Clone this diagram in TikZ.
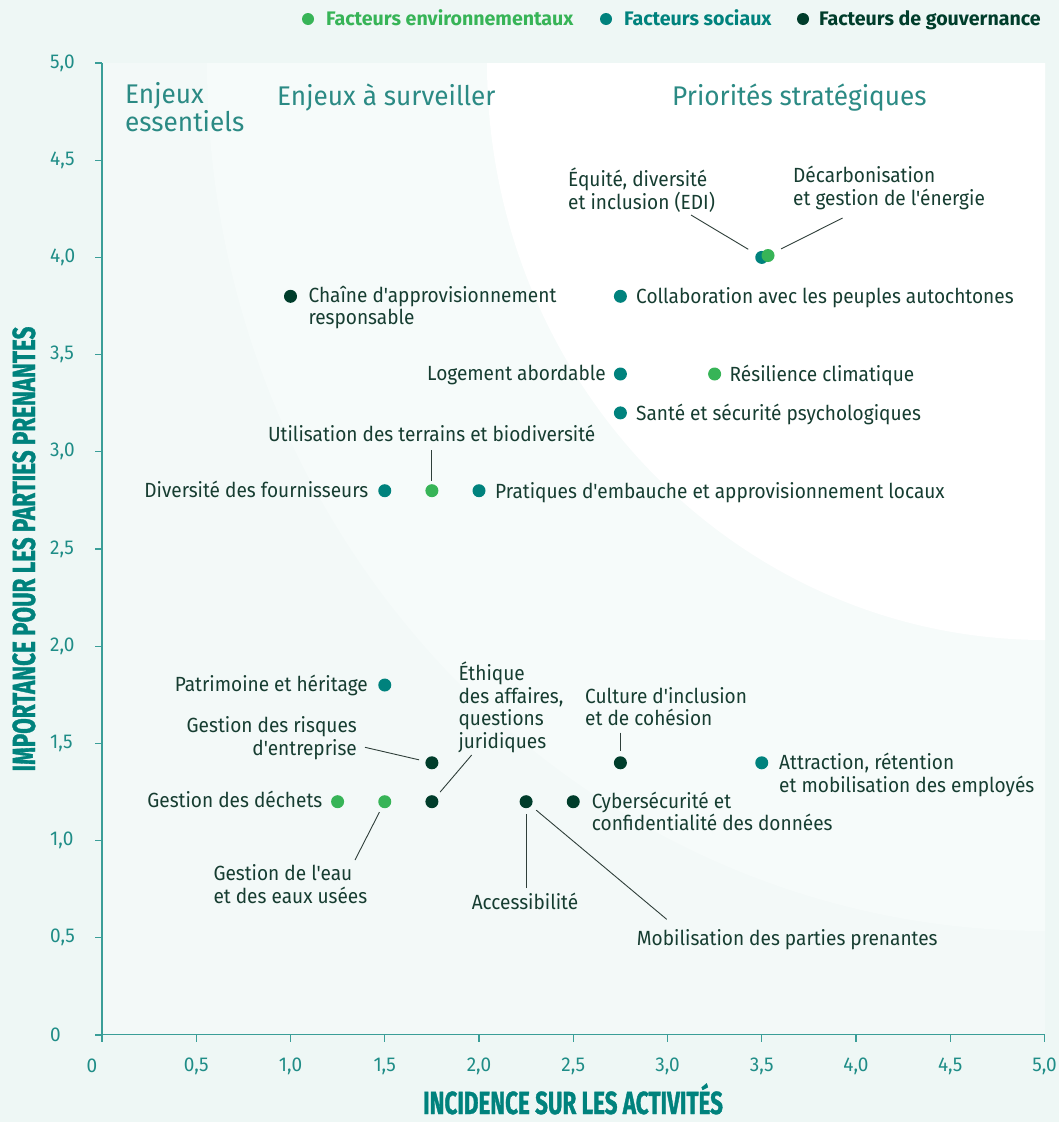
\documentclass[tikz,border=0pt]{standalone}
\usepackage{fontspec}
\setmainfont{Fira Sans}
\newfontfamily\lblfont[FakeStretch=0.93]{Fira Sans}
\newfontfamily\quadfont[FakeStretch=0.97]{Fira Sans}
\newfontfamily\legfont{Fira Sans}
\newfontfamily\tickfont[FakeStretch=0.95]{Fira Sans}
\newfontfamily\ttlfont[FakeStretch=0.70,FakeBold=1]{Fira Sans}
\definecolor{pagebg}{HTML}{EEF7F5}
\definecolor{plotbg}{HTML}{F3F9F8}
\definecolor{midbg}{HTML}{F6FBFA}
\definecolor{envc}{HTML}{37B457}
\definecolor{socc}{HTML}{00827D}
\definecolor{govc}{HTML}{003D2B}
\definecolor{txtc}{HTML}{163D31}
\definecolor{quadc}{HTML}{2B8A84}
\definecolor{axc}{HTML}{3A9E98}
\definecolor{tickc}{HTML}{1F8D87}
\definecolor{linec}{HTML}{2F3F3A}
\begin{document}
\begin{tikzpicture}[x=1pt,y=-1pt,
  dot/.style={circle,inner sep=0pt,minimum size=13pt,draw=none},
  env/.style={dot,fill=envc},
  soc/.style={dot,fill=socc},
  gov/.style={dot,fill=govc},
  lbl/.style={inner sep=0pt,text=txtc,font=\lblfont\fontsize{20.5}{22.6}\selectfont},
  quad/.style={inner sep=0pt,text=quadc,font=\quadfont\fontsize{27}{26}\selectfont},
  tick/.style={inner sep=0pt,text=tickc,font=\tickfont\fontsize{20}{20}\selectfont},
  leg/.style={inner sep=0pt,font=\legfont\bfseries\fontsize{19.6}{20}\selectfont},
  ttl/.style={inner sep=0pt,text=socc,font=\ttlfont\bfseries\fontsize{32}{32}\selectfont},
  axline/.style={draw=axc,line width=1.3pt},
  conn/.style={draw=linec,line width=0.9pt}]
\fill[pagebg] (0,0) rectangle (1059,1122);
\useasboundingbox (0,0) rectangle (1059,1122);
% zones
\begin{scope}
\clip (102,63) rectangle (1045,1034.5);
\fill[plotbg] (102,63) rectangle (1045,1034.5);
\fill[midbg] (1045,63) ellipse [x radius=838pt, y radius=868pt];
\fill[white] (1045,63) ellipse [x radius=558pt, y radius=577pt];
\end{scope}
% axes
\draw[axline] (102,63) -- (102,1034.5);
\draw[axline] (95,1034.5) -- (1045,1034.5);
\foreach \k in {0,...,10}{
  \draw[axline] ({102+94.25*\k},1034.5) -- ({102+94.25*\k},1041.5);
  \draw[axline] (95,{1035-97.2*\k}) -- (102,{1035-97.2*\k});
}
\foreach \k/\t in {1/{0,5},2/{1,0},3/{1,5},4/{2,0},5/{2,5},6/{3,0},7/{3,5},8/{4,0},9/{4,5},10/{5,0}}{
  \node[tick,anchor=center] (xt\k) at ({102+94.25*\k},1066) {\t};
  \node[tick,anchor=west] (yt\k) at (50,{1035-97.2*\k}) {\t};
}
\node[tick,anchor=center] (xt0) at (92,1066) {0};
\node[tick,anchor=west] (yt0) at (50,1035) {0};
% axis titles
\node[ttl,anchor=base] (xtitle) at (573,1114) {INCIDENCE SUR LES ACTIVITÉS};
\node[ttl,anchor=base,rotate=90] (ytitle) at (35,549) {IMPORTANCE POUR LES PARTIES PRENANTES};
% legend
\node[env,minimum size=12pt] (lg1) at (308,19) {};
\node[leg,text=envc,anchor=base west] (lt1) at (326,25) {Facteurs environnementaux};
\node[soc,minimum size=12pt] (lg2) at (606,19) {};
\node[leg,text=socc,anchor=base west] (lt2) at (624,25) {Facteurs sociaux};
\node[gov,minimum size=12pt] (lg3) at (803,19) {};
\node[leg,text=govc,anchor=base west] (lt3) at (819,25) {Facteurs de gouvernance};
% quadrant titles (base = last line)
\node[quad,anchor=base west,align=left] (q1) at (125,131.7) {Enjeux\\essentiels};
\node[quad,anchor=base west] (q2) at (277,105.7) {Enjeux à surveiller};
\node[quad,anchor=base west] (q3) at (672,105) {Priorités stratégiques};
% dots
\node[soc] (edi) at (761.75,257.4) {};
\node[env] (decarb) at (768,255.5) {};
\node[gov] (chaine) at (290.5,296.3) {};
\node[soc] (collab) at (620.4,296.3) {};
\node[soc] (logement) at (620.4,374) {};
\node[env] (resil) at (714.6,374) {};
\node[soc] (sante) at (620.4,412.9) {};
\node[soc] (divers) at (384.75,490.7) {};
\node[env] (utilis) at (431.9,490.7) {};
\node[soc] (pratiq) at (479,490.7) {};
\node[soc] (patrim) at (384.75,685) {};
\node[gov] (risques) at (431.9,762.8) {};
\node[gov] (culture) at (620.4,762.8) {};
\node[soc] (attract) at (761.75,762.8) {};
\node[env] (dechets) at (337.6,801.7) {};
\node[env] (eau) at (384.75,801.7) {};
\node[gov] (ethique) at (431.9,801.7) {};
\node[gov] (access) at (526.1,801.7) {};
\node[gov] (cyber) at (573.25,801.7) {};
% labels (multi-line: base = last line)
\node[lbl,anchor=base west,align=left] (l-edi) at (568,209) {Équité, diversité\\et inclusion (EDI)};
\node[lbl,anchor=base west,align=left] (l-decarb) at (793,205.5) {Décarbonisation\\et gestion de l'énergie};
\node[lbl,anchor=base west,align=left] (l-chaine) at (308.3,324.8) {Chaîne d'approvisionnement\\responsable};
\node[lbl,anchor=base west] (l-collab) at (636,303.5) {Collaboration avec les peuples autochtones};
\node[lbl,anchor=base east] (l-logement) at (606,380.5) {Logement abordable};
\node[lbl,anchor=base west] (l-resil) at (729.5,381.5) {Résilience climatique};
\node[lbl,anchor=base west] (l-sante) at (636,420) {Santé et sécurité psychologiques};
\node[lbl,anchor=base] (l-utilis) at (431.7,441.7) {Utilisation des terrains et biodiversité};
\node[lbl,anchor=base east] (l-divers) at (368.5,497) {Diversité des fournisseurs};
\node[lbl,anchor=base west] (l-pratiq) at (495,498) {Pratiques d'embauche et approvisionnement locaux};
\node[lbl,anchor=base east] (l-patrim) at (368,691.5) {Patrimoine et héritage};
\node[lbl,anchor=base east,align=right] (l-risques) at (357,755.5) {Gestion des risques\\d'entreprise};
\node[lbl,anchor=base west,align=left] (l-ethique) at (458.3,748.3) {Éthique\\des affaires,\\questions\\juridiques};
\node[lbl,anchor=base west,align=left] (l-culture) at (585,725.8) {Culture d'inclusion\\et de cohésion};
\node[lbl,anchor=base west,align=left] (l-attract) at (779,792) {Attraction, rétention\\et mobilisation des employés};
\node[lbl,anchor=base east] (l-dechets) at (322.5,807) {Gestion des déchets};
\node[lbl,anchor=base west,align=left] (l-eau) at (213.3,903.3) {Gestion de l'eau\\et des eaux usées};
\node[lbl,anchor=base west,align=left] (l-cyber) at (591.7,830.8) {Cybersécurité et\\confidentialité des données};
\node[lbl,anchor=base] (l-access) at (525,909.3) {Accessibilité};
\node[lbl,anchor=base west] (l-mobil) at (636.7,945) {Mobilisation des parties prenantes};
% connectors
\coordinate (c-edi) at (691,215);
\coordinate (c-decarb) at (842.6,218);
\coordinate (c-utilis) at (431.9,450);
\coordinate (c-risques) at (365,747.3);
\coordinate (c-ethique) at (471.7,755);
\coordinate (c-culture) at (620.4,732.7);
\coordinate (c-eau) at (355,860);
\coordinate (c-access) at (526.1,888);
\coordinate (c-mobil) at (666.7,919.3);
\draw[conn,shorten >=9pt] (c-edi) -- (edi);
\draw[conn,shorten >=8pt] (c-decarb) -- (decarb);
\draw[conn,shorten >=3.5pt] (c-utilis) -- (utilis);
\draw[conn,shorten >=6.5pt] (c-risques) -- (risques);
\draw[conn,shorten >=6pt] (c-ethique) -- (ethique);
\draw[conn,shorten >=5pt] (c-culture) -- (culture);
\draw[conn,shorten >=5pt] (c-eau) -- (eau);
\draw[conn,shorten >=6pt] (c-access) -- (access);
\draw[conn,shorten >=6.5pt] (c-mobil) -- (access);
\end{tikzpicture}
\end{document}
